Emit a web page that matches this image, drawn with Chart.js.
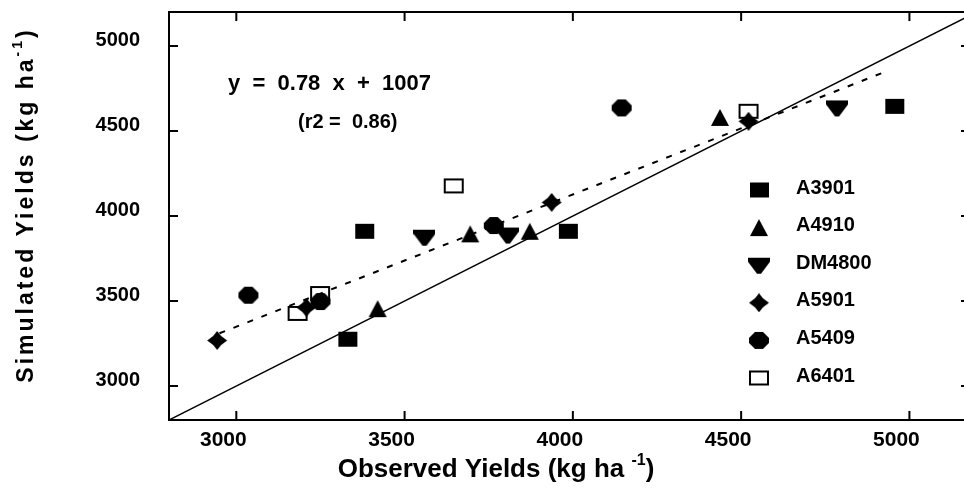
<!DOCTYPE html>
<html>
<head>
<meta charset="utf-8">
<script src="https://cdn.jsdelivr.net/npm/chart.js@4.4.1/dist/chart.umd.min.js"></script>
<style>
  html, body { margin: 0; padding: 0; background: #fff; overflow: hidden; }
  #wrap { width: 964px; height: 491px; overflow: hidden; }
</style>
</head>
<body>
<div id="wrap"><canvas id="chart" width="972" height="491"></canvas></div>
<script>
// observed (x) and simulated (y) yields per cultivar, kg/ha
const obsA3901 = [3380, 3330, 3985, 4955]
const simA3901 = [3910, 3275, 3910, 4645]
const obsA4910 = [3420, 3695, 3872, 4437]
const simA4910 = [3455, 3895, 3910, 4580]
const obsDM4800 = [3559, 3807, 4785]
const simDM4800 = [3875, 3888, 4636]
const obsA5901 = [2943, 3208, 3937, 4522]
const simA5901 = [3268, 3462, 4080, 4557]
const obsA5409 = [3036, 3250, 3765, 4145]
const simA5409 = [3534, 3497, 3944, 4636]
const obsA6401 = [3182, 3249, 3646, 4522]
const simA6401 = [3427, 3544, 4177, 4616]

// fitted line end points and the 1:1 line
const fitObs = [2950, 4930]
const fitSim = [3310, 4850]
const oneObs = [2800, 5180]
const oneSim = [2800, 5180]

const xTicks = [3000, 3500, 4000, 4500, 5000]
const yTicks = [3000, 3500, 4000, 4500, 5000]

const cultivars = ['A3901', 'A4910', 'DM4800', 'A5901', 'A5409', 'A6401']

function pairs(xs, ys) {
    return xs.map((x, i) => ({x: x, y: ys[i]}))
}

//marker images, a bit wider than tall like the scanned figure
function marker(kind) {
    let c = document.createElement('canvas')
    c.width = 22
    c.height = 19
    let g = c.getContext('2d')
    g.fillStyle = '#000'
    g.strokeStyle = '#000'
    g.beginPath()
    if (kind === 'square') {
        g.rect(2, 2, 19, 15)
        g.fill()
    } else if (kind === 'up') {
        g.moveTo(11, 1); g.lineTo(20, 18); g.lineTo(2, 18); g.closePath()
        g.fill()
    } else if (kind === 'down') {
        g.moveTo(0, 2); g.lineTo(22, 2); g.lineTo(22, 6); g.lineTo(13, 18); g.lineTo(9, 18); g.lineTo(0, 6); g.closePath()
        g.fill()
    } else if (kind === 'star') {
        g.moveTo(11, 0); g.lineTo(15, 5); g.lineTo(21, 9.5); g.lineTo(15, 14); g.lineTo(11, 19)
        g.lineTo(7, 14); g.lineTo(1, 9.5); g.lineTo(7, 5); g.closePath()
        g.fill()
    } else if (kind === 'octagon') {
        g.moveTo(7, 1); g.lineTo(15, 1); g.lineTo(21, 7); g.lineTo(21, 12); g.lineTo(15, 18)
        g.lineTo(7, 18); g.lineTo(1, 12); g.lineTo(1, 7); g.closePath()
        g.fill()
    } else {
        g.lineWidth = 2
        g.strokeRect(2, 3, 18, 13)
    }
    return c
}

const markers = [marker('square'), marker('up'), marker('down'), marker('star'), marker('octagon'), marker('open')]
const seriesX = [obsA3901, obsA4910, obsDM4800, obsA5901, obsA5409, obsA6401]
const seriesY = [simA3901, simA4910, simDM4800, simA5901, simA5409, simA6401]

let datasets = cultivars.map((name, i) => ({
    label: name,
    data: pairs(seriesX[i], seriesY[i]),
    pointStyle: markers[i],
    pointRadius: 10,
    order: 1
}))

datasets.push({
    label: 'fit',
    data: pairs(fitObs, fitSim),
    showLine: true,
    borderColor: '#000',
    borderWidth: 2,
    borderDash: [6, 9],
    pointRadius: 0,
    order: 5
})
datasets.push({
    label: '1:1',
    data: pairs(oneObs, oneSim),
    showLine: true,
    borderColor: '#000',
    borderWidth: 1.5,
    pointRadius: 0,
    order: 6
})

const boldSans = '"Liberation Sans", Arial, sans-serif'
const narrowSans = '"Liberation Sans Narrow", "Liberation Sans", Arial, sans-serif'

//write text with a raised "-1"
function supText(ctx, base, sup, tail, x, y, size, family) {
    ctx.font = 'bold ' + size + 'px ' + family
    let w1 = ctx.measureText(base).width
    let w3 = ctx.measureText(tail).width
    ctx.font = 'bold ' + Math.round(size * 0.6) + 'px ' + family
    let w2 = ctx.measureText(sup).width
    let left = x - (w1 + w2 + w3) / 2
    ctx.textAlign = 'left'
    ctx.textBaseline = 'middle'
    ctx.font = 'bold ' + size + 'px ' + family
    ctx.fillText(base, left, y)
    ctx.font = 'bold ' + Math.round(size * 0.6) + 'px ' + family
    ctx.fillText(sup, left + w1, y - size * 0.38)
    ctx.font = 'bold ' + size + 'px ' + family
    ctx.fillText(tail, left + w1 + w2, y)
}

const framePlugin = {
    id: 'frame',
    afterDatasetsDraw(chart) {
        let ctx = chart.ctx
        let a = chart.chartArea
        let xs = chart.scales.x, ys = chart.scales.y
        ctx.save()
        ctx.strokeStyle = '#000'
        ctx.lineWidth = 2
        ctx.strokeRect(a.left, a.top, a.right - a.left, a.bottom - a.top)
        ctx.beginPath()
        xTicks.forEach(v => {
            let px = xs.getPixelForValue(v)
            ctx.moveTo(px, a.bottom); ctx.lineTo(px, a.bottom - 9)
            ctx.moveTo(px, a.top); ctx.lineTo(px, a.top + 9)
        })
        yTicks.forEach(v => {
            let py = ys.getPixelForValue(v)
            ctx.moveTo(a.left, py); ctx.lineTo(a.left + 9, py)
            ctx.moveTo(a.right, py); ctx.lineTo(a.right - 9, py)
        })
        ctx.stroke()
        ctx.restore()
    },
    afterDraw(chart) {
        let ctx = chart.ctx
        let a = chart.chartArea
        ctx.save()
        ctx.fillStyle = '#000'

        // equation
        ctx.textAlign = 'left'
        ctx.textBaseline = 'middle'
        ctx.font = 'bold 22px ' + boldSans
        ctx.fillText('y  =  0.78  x  +  1007', a.left + 59, 84)
        ctx.font = 'bold 20px ' + boldSans
        ctx.fillText('(r2 =  0.86)', a.left + 129, 122)

        // legend
        chart.data.datasets.forEach((ds, i) => {
            if (!(ds.pointStyle instanceof HTMLCanvasElement)) return
            let cy = 190 + i * 37.6
            ctx.drawImage(ds.pointStyle, 759 - ds.pointStyle.width / 2, cy - ds.pointStyle.height / 2)
            ctx.font = 'bold 20px ' + boldSans
            ctx.textAlign = 'left'
            ctx.fillText(ds.label, 796, cy - 2)
        })

        // axis titles
        supText(ctx, 'Observed Yields (kg ha ', '-1', ')', 496, 470, 26, narrowSans)
        ctx.translate(27, 205)
        ctx.rotate(-Math.PI / 2)
        ctx.letterSpacing = '3px'
        supText(ctx, 'Simulated Yields (kg ha', '-1', ')', 0, 0, 23, boldSans)
        ctx.restore()
    }
}

let chart = new Chart(document.getElementById('chart').getContext('2d'), {
    type: 'scatter',
    data: {datasets: datasets},
    options: {
        responsive: false,
        animation: false,
        devicePixelRatio: 1,
        layout: {autoPadding: false, padding: {top: 12, right: 2, left: 0, bottom: 0}},
        plugins: {legend: {display: false}, tooltip: {enabled: false}},
        scales: {
            x: {
                type: 'linear',
                min: 2800,
                max: 5180,
                afterBuildTicks: s => { s.ticks = xTicks.map(v => ({value: v})) },
                afterFit: s => { s.height = 71; s.paddingLeft = 0; s.paddingRight = 0 },
                grid: {display: false, drawTicks: false},
                border: {display: false},
                ticks: {
                    color: '#000',
                    font: {family: narrowSans, weight: 'bold', size: 21},
                    padding: 8,
                    labelOffset: -13,
                    maxRotation: 0,
                    autoSkip: false,
                    callback: v => String(v)
                }
            },
            y: {
                type: 'linear',
                min: 2800,
                max: 5200,
                afterBuildTicks: s => { s.ticks = yTicks.map(v => ({value: v})) },
                afterFit: s => { s.width = 169; s.paddingTop = 0; s.paddingBottom = 0 },
                grid: {display: false, drawTicks: false},
                border: {display: false},
                ticks: {
                    color: '#000',
                    font: {family: boldSans, weight: 'bold', size: 20},
                    padding: 29,
                    labelOffset: -6,
                    autoSkip: false,
                    callback: v => String(v)
                }
            }
        }
    },
    plugins: [framePlugin]
})
</script>
</body>
</html>
